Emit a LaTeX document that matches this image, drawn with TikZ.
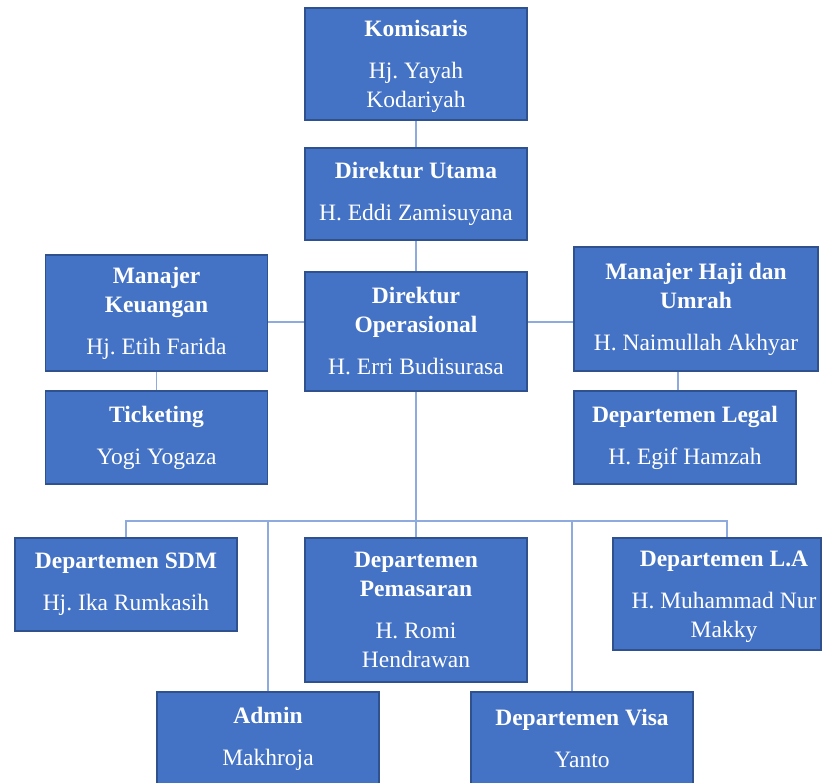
\documentclass[tikz,border=0pt]{standalone}
\usepackage{fontspec}
\setmainfont{Liberation Serif}
\usetikzlibrary{positioning}
\definecolor{boxblue}{HTML}{4472C4}
\definecolor{boxedge}{HTML}{2F528F}
\definecolor{linkblue}{HTML}{8FAADC}
\tikzstyle{jab}=[rectangle,draw=boxedge,fill=boxblue,line width=1.5pt,text=white,
                align=center,minimum width=222pt,inner sep=0pt,
                font=\fontsize{23.5}{29}\selectfont\frenchspacing]
\tikzstyle{low}=[text depth=-4pt]
\tikzstyle{link}=[draw=linkblue,line width=1.3pt]
\begin{document}
\begin{tikzpicture}[x=1pt,y=-1pt]
\useasboundingbox (0,0) rectangle (822,782);
\clip (0,0) rectangle (822,782);
\node[jab,low,minimum height=112pt] (kom) at (416,64) {\textbf{Komisaris}\\[13pt]Hj. Yayah\\Kodariyah};
\node[jab,minimum height=92pt] (dirut) at (416,194) {\textbf{Direktur Utama}\\[13pt]H. Eddi Zamisuyana};
\node[jab,minimum height=119pt] (dirop) at (416,331.5) {\textbf{Direktur}\\\textbf{Operasional}\\[13pt]H. Erri Budisurasa};
\node[jab,minimum height=116pt] (mk) at (156.5,313) {\textbf{Manajer}\\\textbf{Keuangan}\\[13pt]Hj. Etih Farida};
\node[jab,minimum height=93pt] (tick) at (156.5,437.5) {\textbf{Ticketing}\\[13pt]Yogi Yogaza};
\node[jab,minimum width=244pt,minimum height=124pt] (mhu) at (696,309) {\textbf{Manajer Haji dan}\\\textbf{Umrah}\\[13pt]H. Naimullah Akhyar};
\node[jab,minimum height=93pt] (legal) at (685,437.5) {\textbf{Departemen Legal}\\[13pt]H. Egif Hamzah};
\node[jab,minimum height=93pt] (sdm) at (126,584.5) {\textbf{Departemen SDM}\\[13pt]Hj. Ika Rumkasih};
\node[jab,minimum height=144pt] (pemasaran) at (416,610) {\textbf{Departemen}\\\textbf{Pemasaran}\\[13pt]H. Romi\\Hendrawan};
\node[jab,low,minimum width=208pt,minimum height=112pt] (la) at (717,594) {\hspace*{14pt}\textbf{Departemen L.A}\\[13pt]\hspace*{14pt}H. Muhammad Nur\\\hspace*{14pt}Makky};
\node[jab,minimum height=93pt] (admin) at (268,738.5) {\textbf{Admin}\\[13pt]Makhroja};
\node[jab,minimum height=93pt] (visa) at (582,738.5) {\textbf{Departemen Visa}\\[13pt]Yanto};
\coordinate (rowk) at (0,322);
\coordinate (colL) at (678,0);
\coordinate (colV) at (572,0);
\coordinate (colA) at (727,0);
\coordinate (bus) at (0,521);
\draw[link] (kom) -- (dirut);
\draw[link] (dirut) -- (dirop);
\draw[link] (mk.east |- rowk) -- (dirop.west |- rowk);
\draw[link] (dirop.east |- rowk) -- (mhu.west |- rowk);
\draw[link] (mk) -- (tick);
\draw[link] (mhu.south -| colL) -- (legal.north -| colL);
\draw[link] (dirop) -- (pemasaran);
\draw[link] (sdm.north) -- (sdm.north |- bus) -- (colA |- bus) -- (la.north -| colA);
\draw[link] (admin.north) -- (admin.north |- bus);
\draw[link] (visa.north -| colV) -- (colV |- bus);
\end{tikzpicture}
\end{document}
